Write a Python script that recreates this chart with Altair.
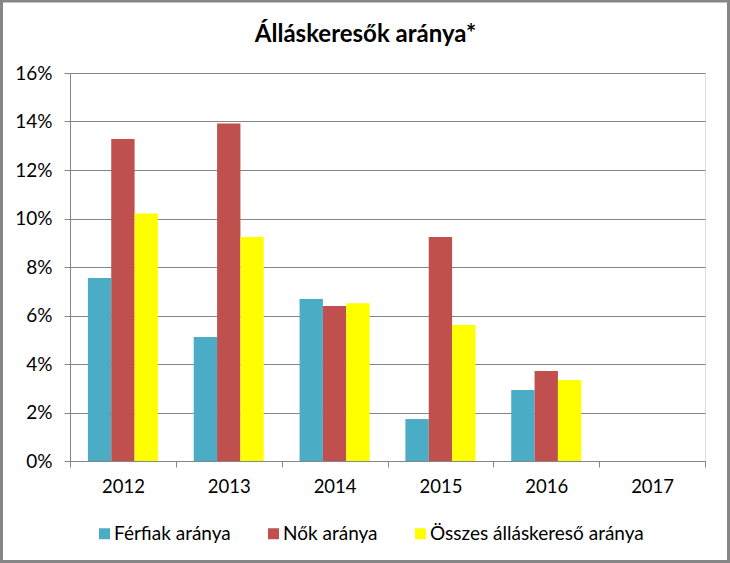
import altair as alt
import pandas as pd

# ---- data ----
years = ["2012", "2013", "2014", "2015", "2016", "2017"]
series = ["Férfiak aránya", "Nők aránya", "Összes álláskereső aránya"]
ferfiak = [0.0755, 0.0511, 0.0668, 0.0173, 0.0293, None]
nok = [0.1328, 0.1392, 0.0639, 0.0924, 0.0371, None]
osszes = [0.1021, 0.0924, 0.0651, 0.0561, 0.0334, None]
colors = ["#4BACC6", "#C0504D", "#FFFF00"]
y_ticks = [0, 0.02, 0.04, 0.06, 0.08, 0.10, 0.12, 0.14, 0.16]
title_text = "Álláskeresők aránya*"

rows = []
for i, yr in enumerate(years):
    for s, vals in zip(series, [ferfiak, nok, osszes]):
        if vals[i] is not None:
            rows.append({"Év": yr, "Sorozat": s, "Arány": vals[i]})
df = pd.DataFrame(rows)

W, H = 635, 388
GRAY = "#868686"
FONT = "Lato"

bars = alt.Chart(df).mark_bar().encode(
    x=alt.X(
        "Év:N",
        scale=alt.Scale(domain=years, paddingInner=0, paddingOuter=0),
        axis=alt.Axis(
            title=None, labelAngle=0, tickBand="extent", tickSize=6,
            tickColor=GRAY, domainColor=GRAY, labelPadding=10,
            labelFont=FONT, labelFontSize=18.5, labelColor="black", grid=False,
        ),
    ),
    xOffset=alt.XOffset(
        "Sorozat:N", sort=series,
        scale=alt.Scale(domain=series, paddingInner=0, paddingOuter=0.767),
    ),
    y=alt.Y(
        "Arány:Q",
        scale=alt.Scale(domain=[0, 0.16], nice=False),
        axis=alt.Axis(
            title=None, values=y_ticks, format=".0%", tickSize=6,
            tickColor=GRAY, domainColor=GRAY, gridColor=GRAY, grid=True,
            labelPadding=12, labelFont=FONT, labelFontSize=19,
            labelColor="black",
        ),
    ),
    color=alt.Color(
        "Sorozat:N",
        scale=alt.Scale(domain=series, range=colors),
        legend=alt.Legend(
            title=None, orient="none", legendX=25, legendY=451,
            direction="horizontal", columns=3, symbolType="square",
            symbolSize=121, symbolStrokeWidth=0, symbolOpacity=1,
            labelFont=FONT, labelFontSize=19, labelColor="black",
            labelLimit=400, labelOffset=0, columnPadding=33, padding=0,
        ),
    ),
)

frame = alt.Chart(pd.DataFrame({"f": [0]})).mark_rect(
    fill="transparent", stroke=GRAY, strokeWidth=3
).encode(
    x=alt.value(-68.5), x2=alt.value(W + 23.5),
    y=alt.value(-72), y2=alt.value(H + 100.5),
)

chart = alt.layer(frame, bars).properties(
    width=W, height=H,
    autosize="none",
    padding={"left": 70, "top": 73, "right": 25, "bottom": 102},
    title=alt.Title(
        title_text, font=FONT, fontSize=24, fontWeight="bold",
        color="black", anchor="middle", baseline="alphabetic",
        offset=-66.5, dx=-22,
    ),
).configure_view(stroke="transparent").configure(background="white")

chart.save("out.html", embed_options={"renderer": "svg", "actions": False})
